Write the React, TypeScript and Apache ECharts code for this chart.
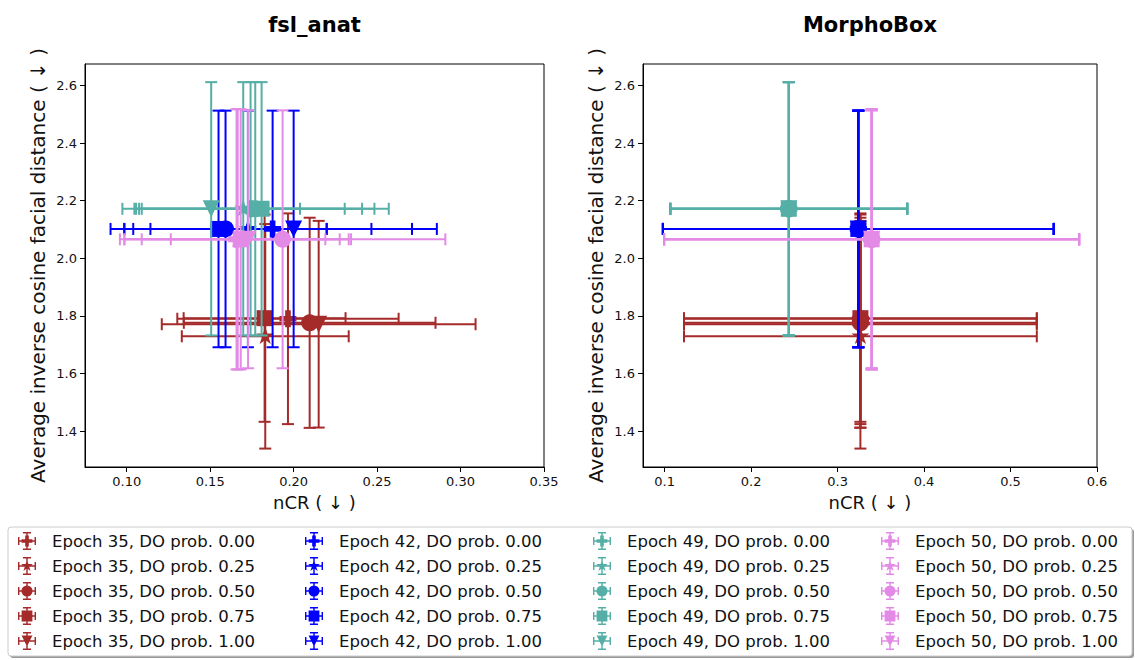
import React, { useEffect, useRef } from "react";
import * as echarts from "echarts";

// ---------- data ----------
const EPOCHS = ["35", "42", "49", "50"];
const DO_PROBS = ["0.00", "0.25", "0.50", "0.75", "1.00"];

// Average inverse cosine facial distance (same metric in both panels), rows = epoch, cols = DO prob
const FACIAL_DIST = [
  [1.790, 1.729, 1.776, 1.792, 1.771],
  [2.102, 2.102, 2.102, 2.102, 2.102],
  [2.172, 2.172, 2.172, 2.172, 2.172],
  [2.066, 2.066, 2.066, 2.066, 2.066],
];
const FACIAL_DIST_ERR = [
  [0.366, 0.390, 0.365, 0.360, 0.359],
  [0.411, 0.411, 0.411, 0.411, 0.411],
  [0.440, 0.440, 0.440, 0.440, 0.440],
  [0.452, 0.452, 0.448, 0.452, 0.448],
];

// nCR for fsl_anat
const FSL_NCR = [
  [0.1966, 0.1830, 0.2096, 0.1826, 0.2150],
  [0.1874, 0.1726, 0.1592, 0.1550, 0.2000],
  [0.1742, 0.1698, 0.1770, 0.1808, 0.1506],
  [0.1658, 0.1665, 0.1934, 0.1683, 0.1727],
];
const FSL_NCR_ERR = [
  [0.0663, 0.0500, 0.0754, 0.0485, 0.0940],
  [0.0835, 0.0740, 0.0607, 0.0647, 0.0858],
  [0.0668, 0.0608, 0.0714, 0.0762, 0.0532],
  [0.0672, 0.0679, 0.0975, 0.0593, 0.0463],
];

// nCR for MorphoBox
const MB_NCR = [
  [0.3264, 0.3264, 0.3264, 0.3264, 0.3264],
  [0.3240, 0.3240, 0.3240, 0.3240, 0.3240],
  [0.2436, 0.2436, 0.2436, 0.2436, 0.2436],
  [0.3394, 0.3394, 0.3394, 0.3394, 0.3394],
];
const MB_NCR_ERR = [
  [0.204, 0.204, 0.204, 0.204, 0.204],
  [0.226, 0.226, 0.226, 0.226, 0.226],
  [0.137, 0.137, 0.137, 0.137, 0.137],
  [0.240, 0.240, 0.240, 0.240, 0.240],
];

const FSL_X_TICKS = [0.1, 0.15, 0.2, 0.25, 0.3, 0.35];
const MB_X_TICKS = [0.1, 0.2, 0.3, 0.4, 0.5, 0.6];
const Y_TICKS = [1.4, 1.6, 1.8, 2.0, 2.2, 2.4, 2.6];

const PANEL_TITLES = ["fsl_anat", "MorphoBox"];
const X_LABEL = "nCR ( ↓ )";
const Y_LABEL = "Average inverse cosine facial distance ( ↓ )";

// ---------- style ----------
const EPOCH_COLORS = ["#A52A2A", "#0000FF", "#55AFA6", "#E28AE6"];
const MARKERS = ["plus", "star", "circle", "square", "triangle"];
const FONT = "DejaVu Sans";
const MS = 17; // marker size px
const CAP = 6;

function starPoints(cx: number, cy: number, R: number): number[][] {
  const pts: number[][] = [];
  const r = R * 0.381966;
  for (let i = 0; i < 10; i++) {
    const ang = -Math.PI / 2 + (i * Math.PI) / 5;
    const rad = i % 2 === 0 ? R : r;
    pts.push([cx + rad * Math.cos(ang), cy + rad * Math.sin(ang)]);
  }
  return pts;
}
function plusPoints(cx: number, cy: number, s: number): number[][] {
  const a = s / 6, h = s / 2;
  return [
    [cx - a, cy - h], [cx + a, cy - h], [cx + a, cy - a], [cx + h, cy - a],
    [cx + h, cy + a], [cx + a, cy + a], [cx + a, cy + h], [cx - a, cy + h],
    [cx - a, cy + a], [cx - h, cy + a], [cx - h, cy - a], [cx - a, cy - a],
  ];
}

function markerEl(marker: string, cx: number, cy: number, color: string): any {
  const h = MS / 2;
  const style = { fill: color };
  switch (marker) {
    case "square":
      return { type: "rect", shape: { x: cx - h + 0.5, y: cy - h + 0.5, width: MS - 1, height: MS - 1 }, style };
    case "circle":
      return { type: "circle", shape: { cx, cy, r: h }, style };
    case "triangle":
      return { type: "polygon", shape: { points: [[cx - h, cy - h], [cx + h, cy - h], [cx, cy + h]] }, style };
    case "plus":
      return { type: "polygon", shape: { points: plusPoints(cx, cy, MS) }, style };
    default:
      return { type: "polygon", shape: { points: starPoints(cx, cy, h + 1) }, style };
  }
}

function makeRenderItem(marker: string, color: string) {
  return (_params: any, api: any) => {
    const x = api.value(0), y = api.value(1), xe = api.value(2), ye = api.value(3);
    const c = api.coord([x, y]);
    const l = api.coord([x - xe, y]);
    const r = api.coord([x + xe, y]);
    const t = api.coord([x, y + ye]);
    const b = api.coord([x, y - ye]);
    const ls = { stroke: color, lineWidth: 2 };
    return {
      type: "group",
      children: [
        { type: "line", shape: { x1: l[0], y1: c[1], x2: r[0], y2: c[1] }, style: ls },
        { type: "line", shape: { x1: c[0], y1: t[1], x2: c[0], y2: b[1] }, style: ls },
        { type: "line", shape: { x1: l[0], y1: c[1] - CAP, x2: l[0], y2: c[1] + CAP }, style: ls },
        { type: "line", shape: { x1: r[0], y1: c[1] - CAP, x2: r[0], y2: c[1] + CAP }, style: ls },
        { type: "line", shape: { x1: c[0] - CAP, y1: t[1], x2: c[0] + CAP, y2: t[1] }, style: ls },
        { type: "line", shape: { x1: c[0] - CAP, y1: b[1], x2: c[0] + CAP, y2: b[1] }, style: ls },
        markerEl(marker, c[0], c[1], color),
      ],
    };
  };
}

function ptsPath(pts: number[][]): string {
  return pts.map((p, i) => (i === 0 ? "M" : "L") + p[0].toFixed(2) + " " + p[1].toFixed(2)).join(" ") + " Z";
}
const CROSS =
  "M0 9.2 L20 9.2 L20 10.8 L0 10.8 Z M0 5.5 L1.6 5.5 L1.6 14.5 L0 14.5 Z M18.4 5.5 L20 5.5 L20 14.5 L18.4 14.5 Z " +
  "M9.2 0 L10.8 0 L10.8 20 L9.2 20 Z M5.5 0 L14.5 0 L14.5 1.6 L5.5 1.6 Z M5.5 18.4 L14.5 18.4 L14.5 20 L5.5 20 Z";
function legendIcon(marker: string): string {
  let m = "";
  switch (marker) {
    case "square": m = "M4 4 L16 4 L16 16 L4 16 Z"; break;
    case "circle": m = "M3.8 10 A6.2 6.2 0 1 1 16.2 10 A6.2 6.2 0 1 1 3.8 10 Z"; break;
    case "triangle": m = "M4 4 L16 4 L10 16 Z"; break;
    case "plus": m = ptsPath(plusPoints(10, 10, 12)); break;
    default: m = ptsPath(starPoints(10, 10, 6.8));
  }
  return "path://" + CROSS + " " + m;
}

// icon centre x for each legend column
const LEGEND_ICON_X = [27, 314, 602, 890];

function buildOption(): any {
  const grids = [
    { left: 85, top: 64, width: 459, height: 403 },
    { left: 643, top: 64, width: 454, height: 403 },
  ];
  const xRanges = [[0.075, 0.35], [0.075, 0.6]];
  const xTicks = [FSL_X_TICKS, MB_X_TICKS];
  const xDec = [2, 1];
  const ncr = [FSL_NCR, MB_NCR];
  const ncrErr = [FSL_NCR_ERR, MB_NCR_ERR];

  const series: any[] = [];
  for (let p = 0; p < 2; p++) {
    for (let e = 0; e < EPOCHS.length; e++) {
      for (let d = 0; d < DO_PROBS.length; d++) {
        const color = EPOCH_COLORS[e];
        series.push({
          type: "custom",
          name: `Epoch ${EPOCHS[e]}, DO prob. ${DO_PROBS[d]}`,
          xAxisIndex: p,
          yAxisIndex: p,
          clip: false,
          itemStyle: { color },
          encode: { x: 0, y: 1 },
          renderItem: makeRenderItem(MARKERS[d], color),
          data: [[ncr[p][e][d], FACIAL_DIST[e][d], ncrErr[p][e][d], FACIAL_DIST_ERR[e][d]]],
        });
      }
    }
  }

  return {
    animation: false,
    backgroundColor: "#ffffff",
    textStyle: { fontFamily: FONT },
    grid: grids.map((g) => ({ ...g, show: true, borderColor: "#000", borderWidth: 1, containLabel: false })),
    xAxis: [0, 1].map((p) => ({
      gridIndex: p,
      type: "value",
      min: xRanges[p][0],
      max: xRanges[p][1],
      splitLine: { show: false },
      axisLine: { show: true, onZero: false, lineStyle: { color: "#000", width: 1 } },
      axisTick: { show: true, length: 5, customValues: xTicks[p], lineStyle: { color: "#000" } },
      axisLabel: {
        customValues: xTicks[p],
        formatter: (v: number) => v.toFixed(xDec[p]),
        fontSize: 13,
        color: "#111",
        fontFamily: FONT,
        margin: 8,
      },
      name: X_LABEL,
      nameLocation: "middle",
      nameGap: 26,
      nameTextStyle: { fontSize: 18, color: "#111", fontFamily: FONT },
    })),
    yAxis: [0, 1].map((p) => ({
      gridIndex: p,
      type: "value",
      min: 1.275,
      max: 2.675,
      splitLine: { show: false },
      axisLine: { show: true, onZero: false, lineStyle: { color: "#000", width: 1 } },
      axisTick: { show: true, length: 5, customValues: Y_TICKS, lineStyle: { color: "#000" } },
      axisLabel: {
        customValues: Y_TICKS,
        formatter: (v: number) => v.toFixed(1),
        fontSize: 13,
        color: "#111",
        fontFamily: FONT,
        margin: 8,
      },
      name: Y_LABEL,
      nameLocation: "middle",
      nameRotate: 90,
      nameGap: 37,
      nameTextStyle: { fontSize: 20, color: "#111", fontFamily: FONT },
    })),
    legend: EPOCHS.map((ep, ei) => ({
      orient: "vertical",
      left: LEGEND_ICON_X[ei] - 9,
      top: 532,
      padding: 0,
      itemWidth: 18,
      itemHeight: 18,
      itemGap: 7,
      textStyle: { fontSize: 16.5, color: "#111", fontFamily: FONT, lineHeight: 18, padding: [0, 0, 0, 11] },
      data: DO_PROBS.map((d, di) => ({
        name: `Epoch ${ep}, DO prob. ${d}`,
        icon: legendIcon(MARKERS[di]),
        itemStyle: { color: EPOCH_COLORS[ei] },
      })),
    })),
    graphic: [
      { type: "rect", z: -2, shape: { x: 10, y: 529, width: 1124, height: 129, r: 3 }, style: { fill: "#9a9a9a" } },
      { type: "rect", z: -1, shape: { x: 8, y: 527, width: 1124, height: 129, r: 3 }, style: { fill: "#fff", stroke: "#cccccc", lineWidth: 1 } },
      { type: "text", x: 314.5, y: 25, style: { text: PANEL_TITLES[0], fontSize: 21, fontWeight: "bold", fontFamily: FONT, fill: "#000", align: "center", verticalAlign: "middle" } },
      { type: "text", x: 870, y: 25, style: { text: PANEL_TITLES[1], fontSize: 21, fontWeight: "bold", fontFamily: FONT, fill: "#000", align: "center", verticalAlign: "middle" } },
    ],
    series,
  };
}

export default function App() {
  const ref = useRef<HTMLDivElement>(null);
  useEffect(() => {
    if (!ref.current) return;
    const chart = echarts.init(ref.current, undefined, { renderer: "svg" });
    chart.setOption(buildOption());
    return () => chart.dispose();
  }, []);
  return (
    <div
      ref={ref}
      style={{ position: "absolute", left: 0, top: 0, width: 1135, height: 660, background: "#fff" }}
    />
  );
}
